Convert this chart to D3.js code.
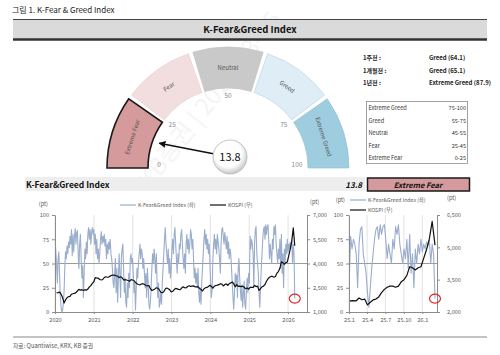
<!DOCTYPE html>
<html>
<head>
<meta charset="utf-8">
<script src="https://cdn.jsdelivr.net/npm/d3@7"></script>
<style>
body { margin: 0; background: #fff; }
svg { display: block; }
</style>
</head>
<body>
<svg id="chart" width="500" height="355"></svg>
<script>
// gauge
var gaugeBands = ["Extreme Fear", "Fear", "Neutral", "Greed", "Extreme Greed"];
var bandBounds = [0, 25, 45, 55, 75, 100];
var bandColors = ["#d59a9c", "#f2dede", "#c9c9c9", "#deedf6", "#9fcde0"];
var bandStrokes = ["#1a1a1a", "#ead0d0", "#c4c4c4", "#bcd6e4", "#93c3d7"];
var gaugeTicks = [0, 25, 50, 75, 100];
var currentValue = 13.8;
var currentLabel = "Extreme Fear";

var historyLabels = ["1주전 :", "1개월전 :", "1년전 :"];
var historyValues = ["Greed (64.1)", "Greed (65.1)", "Extreme Greed (87.9)"];
var rangeLabels = ["Extreme Greed", "Greed", "Neutral", "Fear", "Extreme Fear"];
var rangeValues = ["75-100", "55-75", "45-55", "25-45", "0-25"];

// K-Fear&Greed index, weekly, last point on fgEnd
var fgEnd = "2026-03-05";
var fg2020 = [75,62,48,30,55,62,38,15,5,0,2,8,20,45,62,55,68,60,72,66,78,70,85,58,80,62,78,86,70,82,84,60,45,70,80,55,35,48,15,40,65,55,72,60,80,87,75,85,70,82,87,80];
var fg2021 = [85,70,80,60,75,55,65,50,60,75,83,70,78,72,80,68,75,55,70,60,72,65,75,60,55,45,30,25,40,55,20,45,10,35,60,40,15,55,65,70,45,20,35,10,5,30,15,40,25,55,60,50];
var fg2022 = [55,40,20,30,2,25,45,35,50,60,70,55,65,60,45,55,40,25,40,15,45,30,8,3,10,25,45,60,50,65,55,40,60,30,15,30,5,10,20,8,30,45,60,75,87,70,60,50,65,40,55,35];
var fg2023 = [45,65,75,60,80,87,70,55,40,60,50,70,65,80,85,70,55,45,60,40,70,80,65,75,60,70,85,80,65,75,55,35,45,30,40,25,45,20,10,25,8,30,45,60,75,85,70,80,65,75,60,70];
var fg2024 = [50,30,15,25,55,70,80,65,75,60,80,72,65,55,40,70,85,87,78,70,82,75,65,78,60,72,55,65,60,45,30,15,3,20,40,28,38,15,45,55,35,22,12,28,5,18,32,8,3,22,35,20];
var fg2025 = [40,30,78,65,75,70,60,25,70,85,88,60,50,40,20,5,25,45,60,75,85,88,75,90,80,88,90,75,55,70,60,50,75,65,88,80,90,70,60,50,65,55,75,45,80,40,60,25,65,50,70,60];
var fg2026 = [75,62,70,65,72,68,74,50,70,60,13.8];

// KOSPI, every two weeks, last point on fgEnd
var kospi2020 = [2180,2200,2230,2100,1900,1550,1750,1880,1950,1970,2100,2130,2150,2200,2300,2400,2350,2380,2330,2380,2350,2420,2550,2630,2770,2870];
var kospi2021 = [3130,3100,3090,3010,2980,3010,3130,3180,3150,3160,3220,3270,3290,3270,3240,3220,3130,3180,3120,2980,3000,2980,2950,2900,3000,2980];
var kospi2022 = [2950,2820,2750,2700,2680,2730,2750,2710,2640,2620,2640,2440,2330,2370,2430,2500,2470,2380,2220,2200,2250,2420,2480,2440,2370,2240];
var kospi2023 = [2280,2390,2460,2430,2400,2380,2480,2560,2500,2490,2580,2620,2580,2600,2620,2560,2550,2570,2460,2400,2300,2430,2500,2520,2580,2650];
var kospi2024 = [2580,2470,2600,2640,2660,2690,2750,2720,2610,2700,2740,2640,2760,2800,2860,2740,2560,2690,2590,2600,2570,2600,2530,2440,2480,2410];
var kospi2025 = [2520,2530,2520,2650,2570,2600,2330,2450,2560,2600,2700,2900,3050,3150,3200,3200,3150,3200,3400,3500,3700,4100,4050,3950,4050,4100];
var kospi2026 = [4500,4900,5400,6200,5100];

var fgTicks = [0, 25, 50, 75, 100];
var yearTicks = ["2020", "2021", "2022", "2023", "2024", "2025", "2026"];
var kospiTicksLong = [1000, 2500, 4000, 5500, 7000];
var zoomTicks = ["2025-01-01", "2025-04-01", "2025-07-01", "2025-10-01", "2026-01-01"];
var zoomTickLabels = ["25.1", "25.4", "25.7", "25.10", "26.1"];
var kospiTicksZoom = [2000, 3500, 5000, 6500];

var FONT = '"Noto Sans CJK KR","Noto Sans",sans-serif';
var svg = d3.select("#chart").attr("font-family", FONT);
var defs = svg.append("defs");

var parse = d3.timeParse("%Y-%m-%d");
var endDate = parse(fgEnd);

var fgValues = [].concat(fg2020, fg2021, fg2022, fg2023, fg2024, fg2025, fg2026);
var fgData = fgValues.map(function (v, i) {
    return { date: d3.timeDay.offset(endDate, -(fgValues.length - 1 - i) * 7), value: v };
});
var kospiValues = [].concat(kospi2020, kospi2021, kospi2022, kospi2023, kospi2024, kospi2025, kospi2026);
var kospiData = kospiValues.map(function (v, i) {
    return { date: d3.timeDay.offset(endDate, -(kospiValues.length - 1 - i) * 14), value: v };
});

// faint watermark
svg.append("text")
    .attr("transform", "translate(150,190) rotate(-52)")
    .attr("font-size", 24)
    .attr("fill", "#000")
    .attr("opacity", 0.04)
    .text("KB증권 | 2026-03-05");

// title + header bar
svg.append("text").attr("x", 12).attr("y", 13).attr("font-size", 8).attr("fill", "#222")
    .text("그림 1. K-Fear & Greed Index");
svg.append("rect").attr("x", 13).attr("y", 19).attr("width", 474).attr("height", 20).attr("fill", "#dadada");
svg.append("line").attr("x1", 13).attr("x2", 487).attr("y1", 19.5).attr("y2", 19.5).attr("stroke", "#444").attr("stroke-width", 1);
svg.append("line").attr("x1", 13).attr("x2", 487).attr("y1", 39.5).attr("y2", 39.5).attr("stroke", "#333").attr("stroke-width", 2.5);
svg.append("text").attr("x", 250).attr("y", 33).attr("text-anchor", "middle")
    .attr("font-size", 9.5).attr("font-weight", "bold").attr("fill", "#111")
    .text("K-Fear&Greed Index");

// gauge
var cx = 228, cy = 168, rOuter = 121, rInner = 80;
var rad = Math.PI / 180;
var gScale = d3.scaleLinear().domain(bandBounds).range([-90, -54, -18, 18, 54, 90]);
var arc = d3.arc().innerRadius(rInner).outerRadius(rOuter);
var gauge = svg.append("g").attr("transform", "translate(" + cx + "," + cy + ")");
var pad = 1.1;

gauge.selectAll("path.band")
    .data(gaugeBands)
    .enter()
    .append("path")
    .attr("class", "band")
    .attr("d", function (d, i) {
        var a0 = gScale(bandBounds[i]) + (i === 0 ? 0 : pad);
        var a1 = gScale(bandBounds[i + 1]) - (i === gaugeBands.length - 1 ? 0 : pad);
        return arc({ startAngle: a0 * rad, endAngle: a1 * rad });
    })
    .attr("fill", function (d, i) { return bandColors[i]; })
    .attr("stroke", function (d, i) { return d === currentLabel ? "#1a1a1a" : bandStrokes[i]; })
    .attr("stroke-width", function (d) { return d === currentLabel ? 1.6 : 0.7; });

gauge.selectAll("text.bandLabel")
    .data(gaugeBands)
    .enter()
    .append("text")
    .attr("class", "bandLabel")
    .attr("transform", function (d, i) {
        var a = (gScale(bandBounds[i]) + gScale(bandBounds[i + 1])) / 2;
        var r = (rInner + rOuter) / 2;
        return "translate(" + (r * Math.sin(a * rad)) + "," + (-r * Math.cos(a * rad)) + ") rotate(" + a + ")";
    })
    .attr("text-anchor", "middle")
    .attr("dy", "0.35em")
    .attr("font-size", 6)
    .attr("fill", "#555")
    .text(function (d) { return d; });

gauge.selectAll("text.gTick")
    .data(gaugeTicks)
    .enter()
    .append("text")
    .attr("class", "gTick")
    .attr("x", function (d) { return 69 * Math.sin(gScale(d) * rad); })
    .attr("y", function (d) { return -69 * Math.cos(gScale(d) * rad) - 3; })
    .attr("text-anchor", "middle")
    .attr("dy", "0.35em")
    .attr("font-size", 6.5)
    .attr("fill", "#8a8a8a")
    .text(function (d) { return d; });

// needle arrow
defs.append("marker")
    .attr("id", "arrowHead")
    .attr("viewBox", "0 0 8 8")
    .attr("refX", 7).attr("refY", 4)
    .attr("markerWidth", 7).attr("markerHeight", 7)
    .attr("markerUnits", "userSpaceOnUse")
    .attr("orient", "auto")
    .append("path").attr("d", "M0,0 L8,4 L0,8 z").attr("fill", "#111");

var tipA = gScale(currentValue) * rad;
var tipX = 73 * Math.sin(tipA), tipY = -73 * Math.cos(tipA);
var bubX = 2, bubY = -11, bubR = 17;
var dx = tipX - bubX, dy = tipY - bubY, len = Math.sqrt(dx * dx + dy * dy);
gauge.append("line")
    .attr("x1", bubX + dx / len * bubR).attr("y1", bubY + dy / len * bubR)
    .attr("x2", tipX).attr("y2", tipY)
    .attr("stroke", "#111").attr("stroke-width", 1.6)
    .attr("marker-end", "url(#arrowHead)");

var grad = defs.append("radialGradient").attr("id", "bubbleGrad")
    .attr("cx", "45%").attr("cy", "40%").attr("r", "60%");
grad.append("stop").attr("offset", "0%").attr("stop-color", "#ffffff");
grad.append("stop").attr("offset", "65%").attr("stop-color", "#ffffff");
grad.append("stop").attr("offset", "100%").attr("stop-color", "#c8c8c8");
gauge.append("circle").attr("cx", bubX).attr("cy", bubY).attr("r", bubR)
    .attr("fill", "url(#bubbleGrad)").attr("stroke", "#b5b5b5").attr("stroke-width", 0.8);
gauge.append("text").attr("x", bubX).attr("y", bubY).attr("dy", "0.36em")
    .attr("text-anchor", "middle").attr("font-size", 11).attr("fill", "#111")
    .text(currentValue);

// history text
var hist = svg.append("g");
hist.selectAll("text.hl").data(historyLabels).enter().append("text")
    .attr("x", 363).attr("y", function (d, i) { return 60 + i * 12.5; })
    .attr("font-size", 6).attr("font-weight", "bold").attr("fill", "#222")
    .text(function (d) { return d; });
hist.selectAll("text.hv").data(historyValues).enter().append("text")
    .attr("x", 429).attr("y", function (d, i) { return 60 + i * 12.5; })
    .attr("font-size", 6).attr("font-weight", "bold").attr("fill", "#222")
    .text(function (d) { return d; });

// range table
svg.append("rect").attr("x", 366.5).attr("y", 101.5).attr("width", 101).attr("height", 62)
    .attr("fill", "#fff").attr("stroke", "#8a8a8a").attr("stroke-width", 0.8);
svg.selectAll("text.rl").data(rangeLabels).enter().append("text")
    .attr("x", 368.5).attr("y", function (d, i) { return 110 + i * 12.5; })
    .attr("font-size", 5.6).attr("fill", "#333")
    .text(function (d) { return d; });
svg.selectAll("text.rv").data(rangeValues).enter().append("text")
    .attr("x", 466).attr("y", function (d, i) { return 110 + i * 12.5; })
    .attr("text-anchor", "end")
    .attr("font-size", 5.6).attr("fill", "#333")
    .text(function (d) { return d; });

// second header row
svg.append("rect").attr("x", 25).attr("y", 177).attr("width", 340).attr("height", 14).attr("fill", "#eeeeee");
svg.append("text").attr("x", 26).attr("y", 188).attr("font-size", 8.5).attr("font-weight", "bold").attr("fill", "#111")
    .text("K-Fear&Greed Index");
svg.append("text").attr("x", 362).attr("y", 188).attr("text-anchor", "end")
    .attr("font-size", 8).attr("font-weight", "bold").attr("font-style", "italic").attr("fill", "#111")
    .text(currentValue);
svg.append("rect").attr("x", 367.5).attr("y", 178).attr("width", 102).attr("height", 13)
    .attr("fill", "#d59a9c").attr("stroke", "#1a1a1a").attr("stroke-width", 1.5);
svg.append("text").attr("x", 418).attr("y", 188).attr("text-anchor", "middle")
    .attr("font-size", 7.5).attr("font-weight", "bold").attr("font-style", "italic").attr("fill", "#111")
    .text(currentLabel);

function styleAxis(sel, size) {
    sel.attr("font-family", FONT).attr("font-size", size);
    sel.select(".domain").attr("stroke", "#8c8c8c");
    sel.selectAll(".tick line").attr("stroke", "#8c8c8c");
    sel.selectAll(".tick text").attr("fill", "#595959");
}

function drawPanel(p) {
    var x = d3.scaleTime().domain(p.xDomain).range([p.left, p.right]);
    var yFg = d3.scaleLinear().domain([0, 100]).range([p.bottom, p.top]);
    var yK = d3.scaleLinear().domain(p.kDomain).range([p.bottom, p.top]);
    var g = svg.append("g");

    g.selectAll("line.vgrid")
        .data(p.xTicks)
        .enter()
        .append("line")
        .attr("x1", function (d) { return x(d); })
        .attr("x2", function (d) { return x(d); })
        .attr("y1", p.top)
        .attr("y2", p.bottom)
        .attr("stroke", "#dadada")
        .attr("stroke-width", 0.8);
    g.append("line")
        .attr("x1", p.left).attr("x2", p.right)
        .attr("y1", yFg(50)).attr("y2", yFg(50))
        .attr("stroke", "#9a9a9a").attr("stroke-width", 1);

    defs.append("clipPath").attr("id", p.id)
        .append("rect").attr("x", p.left).attr("y", p.top - 3)
        .attr("width", p.right - p.left).attr("height", p.bottom - p.top + 3);

    var fgLine = d3.line()
        .x(function (d) { return x(d.date); })
        .y(function (d) { return yFg(d.value); });
    var kLine = d3.line()
        .x(function (d) { return x(d.date); })
        .y(function (d) { return yK(d.value); });

    var plot = g.append("g").attr("clip-path", "url(#" + p.id + ")");
    plot.append("path").datum(p.fg).attr("d", fgLine)
        .attr("fill", "none").attr("stroke", "#9aadcc").attr("stroke-width", 1.1)
        .attr("stroke-linejoin", "round");
    plot.append("path").datum(p.kospi).attr("d", kLine)
        .attr("fill", "none").attr("stroke", "#111").attr("stroke-width", 1.2)
        .attr("stroke-linejoin", "round");

    var axL = g.append("g").attr("transform", "translate(" + p.left + ",0)")
        .call(d3.axisLeft(yFg).tickValues(fgTicks).tickSize(3).tickSizeOuter(0).tickPadding(3));
    styleAxis(axL, 5.6);
    var axR = g.append("g").attr("transform", "translate(" + p.right + ",0)")
        .call(d3.axisRight(yK).tickValues(p.kTicks).tickFormat(d3.format(",")).tickSize(3).tickSizeOuter(0).tickPadding(p.rPad));
    styleAxis(axR, 5.6);
    var axB = g.append("g").attr("transform", "translate(0," + p.bottom + ")")
        .call(d3.axisBottom(x).tickValues(p.xTicks).tickFormat(p.xFormat).tickSize(2).tickSizeOuter(0).tickPadding(4));
    styleAxis(axB, 5.6);

    var last = p.fg[p.fg.length - 1];
    g.append("ellipse")
        .attr("cx", x(last.date)).attr("cy", yFg(last.value))
        .attr("rx", 5.5).attr("ry", 4.5)
        .attr("fill", "none").attr("stroke", "#e0282c").attr("stroke-width", 1.2);
}

var yearDates = yearTicks.map(function (d) { return parse(d + "-01-01"); });
drawPanel({
    id: "clipLong",
    left: 55, right: 307, top: 215, bottom: 312,
    xDomain: [parse("2020-01-01"), parse("2026-06-28")],
    kDomain: [1000, 7000],
    kTicks: kospiTicksLong,
    rPad: 3,
    xTicks: yearDates,
    xFormat: d3.timeFormat("%Y"),
    fg: fgData,
    kospi: kospiData
});

var zoomDates = zoomTicks.map(parse);
var zoomStart = parse("2024-12-15");
drawPanel({
    id: "clipZoom",
    left: 349, right: 437, top: 215, bottom: 312,
    xDomain: [parse("2025-01-01"), parse("2026-03-15")],
    kDomain: [2000, 6500],
    kTicks: kospiTicksZoom,
    rPad: 7,
    xTicks: zoomDates,
    xFormat: function (d, i) { return zoomTickLabels[i]; },
    fg: fgData.filter(function (d) { return d.date >= zoomStart; }),
    kospi: kospiData.filter(function (d) { return d.date >= zoomStart; })
});

// unit labels
var units = [[48, 206, "end"], [310, 204, "start"], [345, 202, "end"], [447, 200, "start"]];
svg.selectAll("text.unit").data(units).enter().append("text")
    .attr("x", function (d) { return d[0]; })
    .attr("y", function (d) { return d[1]; })
    .attr("text-anchor", function (d) { return d[2]; })
    .attr("font-size", 5.6).attr("fill", "#595959")
    .text("(pt)");

// legends
var legendItems = [
    { x: 120, y: 205, color: "#9aadcc", label: "K-Fear&Greed Index (좌)" },
    { x: 210, y: 205, color: "#111", label: "KOSPI (우)" },
    { x: 350, y: 200, color: "#9aadcc", label: "K-Fear&Greed Index (좌)" },
    { x: 350, y: 210, color: "#111", label: "KOSPI (우)" }
];
var leg = svg.selectAll("g.legend").data(legendItems).enter().append("g").attr("class", "legend");
leg.append("line")
    .attr("x1", function (d) { return d.x; }).attr("x2", function (d) { return d.x + 16; })
    .attr("y1", function (d) { return d.y; }).attr("y2", function (d) { return d.y; })
    .attr("stroke", function (d) { return d.color; }).attr("stroke-width", 1.2);
leg.append("text")
    .attr("x", function (d) { return d.x + 18; })
    .attr("y", function (d) { return d.y; })
    .attr("dy", "0.35em")
    .attr("font-size", 5.2).attr("fill", "#595959")
    .text(function (d) { return d.label; });

// footer
svg.append("line").attr("x1", 13).attr("x2", 487).attr("y1", 337).attr("y2", 337)
    .attr("stroke", "#c4c4c4").attr("stroke-width", 1.8);
svg.append("text").attr("x", 13).attr("y", 348).attr("font-size", 5.8).attr("fill", "#555")
    .text("자료: Quantiwise, KRX, KB 증권");
</script>
</body>
</html>
